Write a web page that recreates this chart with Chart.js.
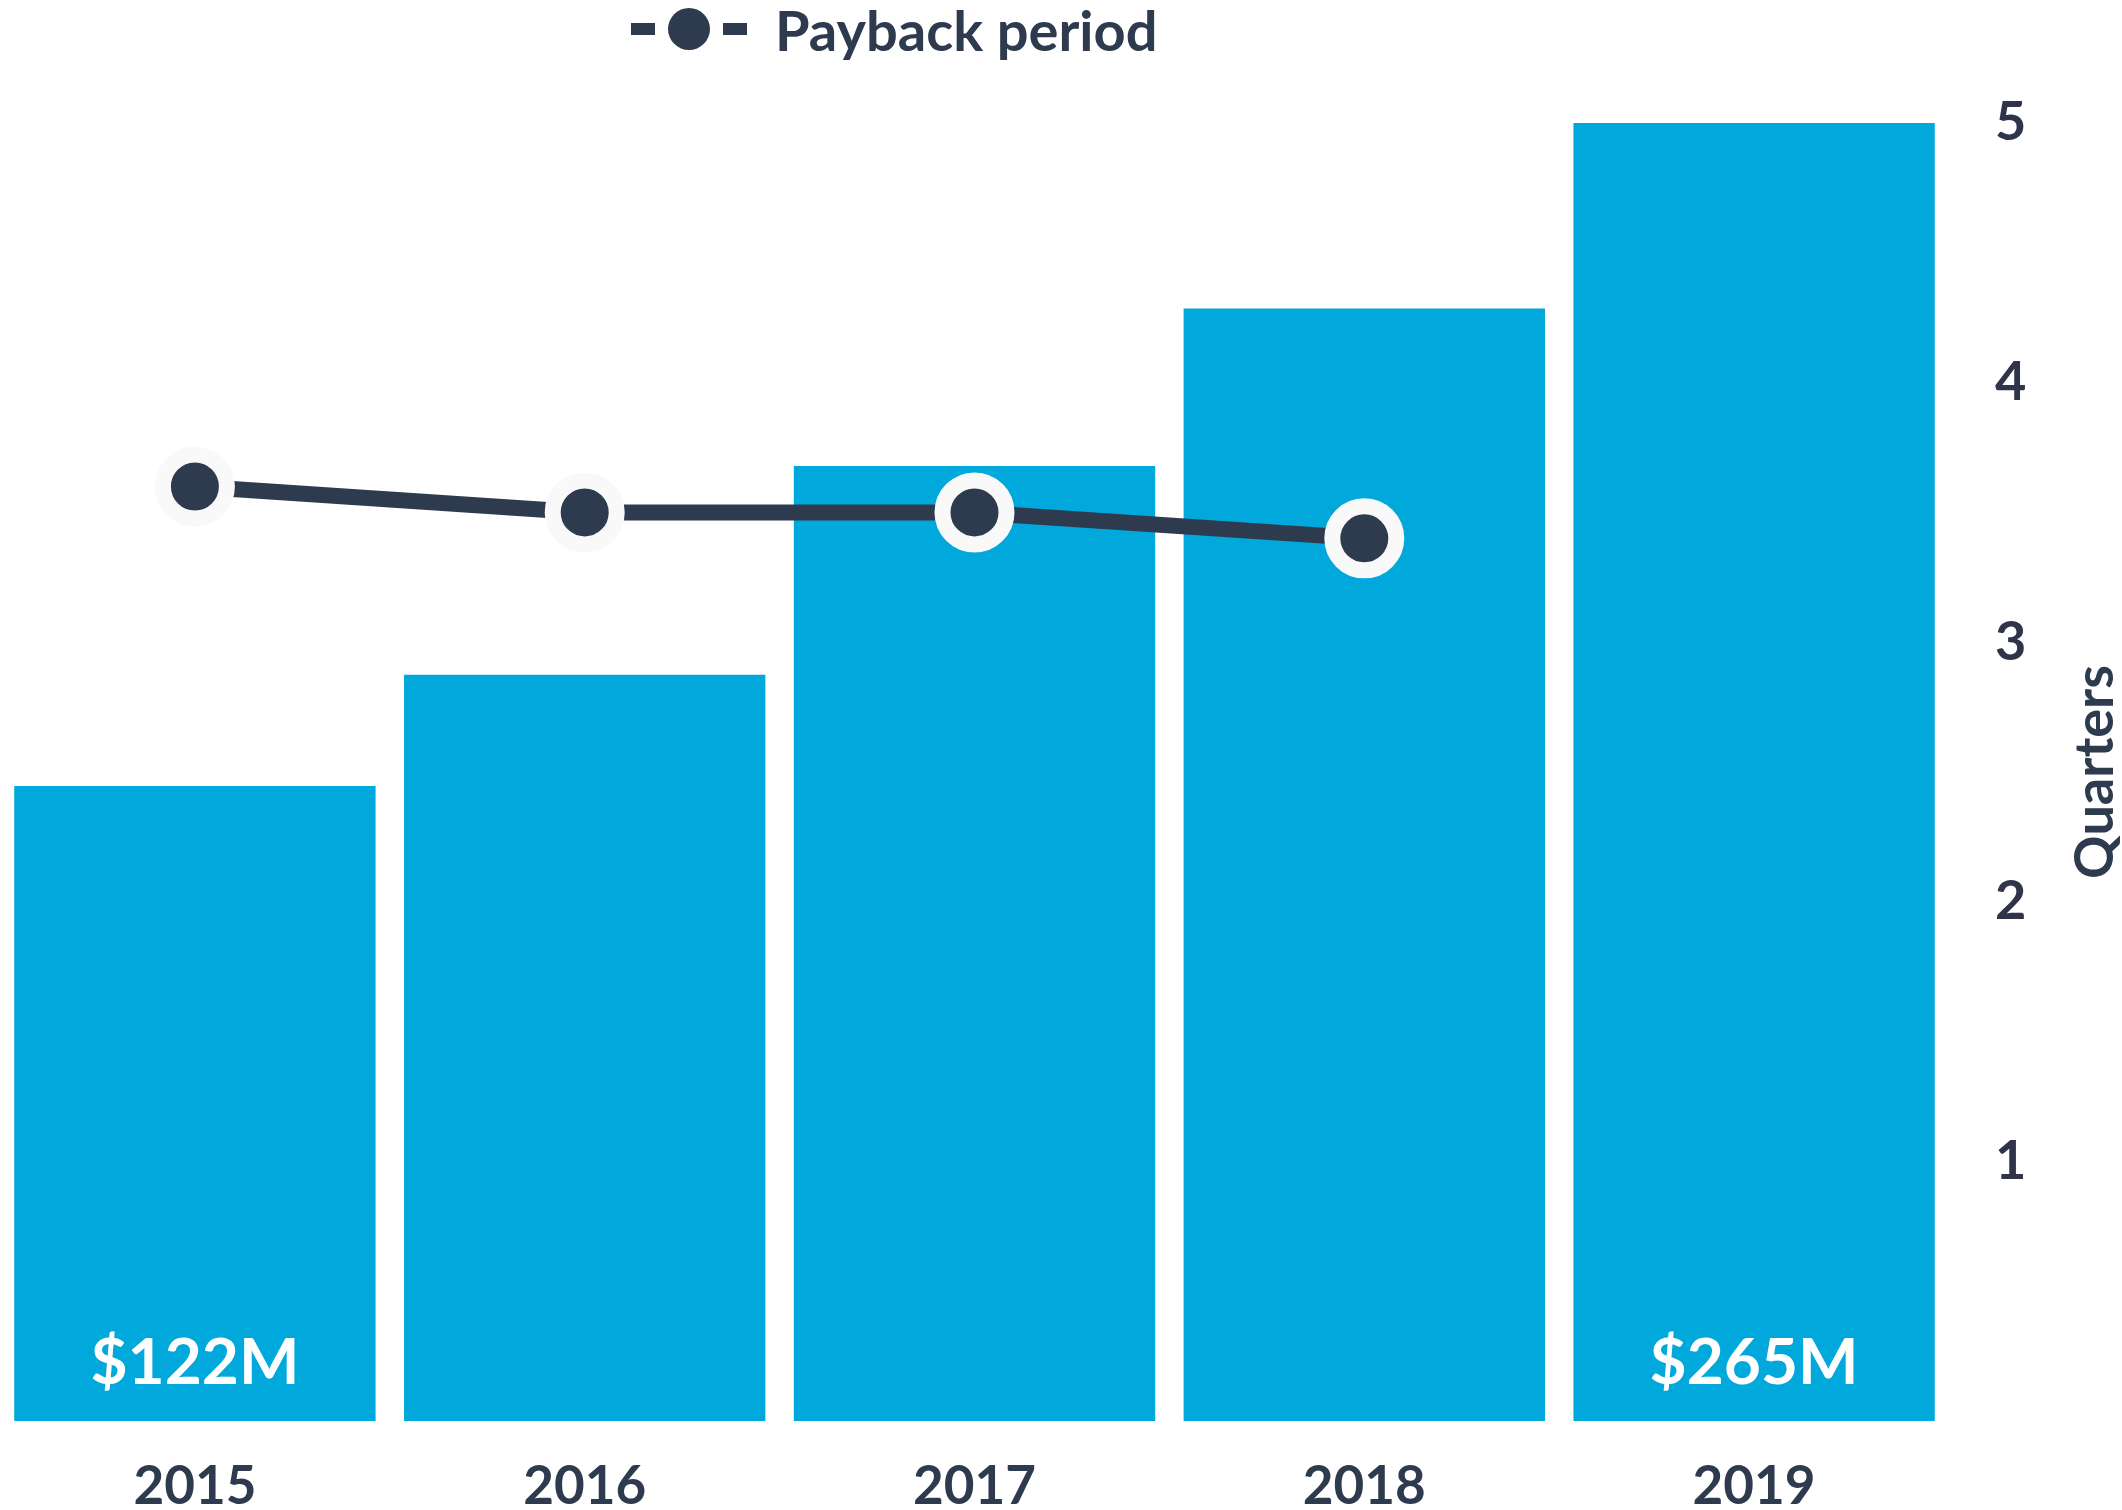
<!DOCTYPE html>
<html>
<head>
<meta charset="utf-8">
<script src="https://cdn.jsdelivr.net/npm/chart.js@4.4.1/dist/chart.umd.min.js"></script>
<style>
  html, body { margin: 0; padding: 0; background: #ffffff; }
  #wrap { width: 2122px; height: 1510px; position: relative; }
</style>
</head>
<body>
<div id="wrap"><canvas id="c" width="2122" height="1510"></canvas></div>
<script>
// ---- data ----
const years = ['2015', '2016', '2017', '2018', '2019'];
const revenueMillions = [122, 146, 191, 225, 265];
const revenueLabelShown = [true, false, false, false, true];
const paybackQuarters = [3.6, 3.5, 3.5, 3.4, null];
const quarterTicks = [1, 2, 3, 4, 5];
const lineLabel = 'Payback period';
const axisTitle = 'Quarters';
const revenueAxisMin = -15;
const revenueAxisMax = 265;

// ---- style ----
const BLUE = '#00a8db';
const NAVY = '#2e3b4f';
const HALO = '#f9f9f9';
const FONT = 'Lato, "Open Sans", sans-serif';

function makeLegendIcon() {
  const cv = document.createElement('canvas');
  cv.width = 116; cv.height = 60;
  const g = cv.getContext('2d');
  g.fillStyle = NAVY;
  const cy = 26;
  g.fillRect(0, cy - 6, 24, 12);
  g.fillRect(92, cy - 6, 24, 12);
  g.beginPath(); g.arc(58, cy, 21, 0, Math.PI * 2); g.fill();
  return cv;
}

const tweaks = {
  id: 'tweaks',
  beforeInit(chart) {
    const lg = chart.legend;
    if (lg) {
      const fit = lg.fit;
      lg.fit = function () { fit.call(this); this.height = 123; };
    }
  },
  afterLayout(chart) {
    const lg = chart.legend;
    if (lg) { const w = lg.right - lg.left; lg.left = 631 - 5; lg.right = lg.left + w; }
  },
  afterDatasetsDraw(chart) {
    const ctx = chart.ctx;
    const meta = chart.getDatasetMeta(1);
    ctx.save();
    ctx.fillStyle = '#ffffff';
    ctx.font = 'bold 64px ' + FONT;
    ctx.textAlign = 'center';
    ctx.textBaseline = 'middle';
    meta.data.forEach((bar, i) => {
      if (revenueLabelShown[i]) ctx.fillText('$' + revenueMillions[i] + 'M', bar.x, bar.base - 58);
    });
    ctx.restore();
  },
  afterDraw(chart) {
    const s = chart.scales.y;
    const ctx = chart.ctx;
    ctx.save();
    ctx.translate(s.right - 26, (chart.chartArea.top + chart.chartArea.bottom) / 2);
    ctx.rotate(-Math.PI / 2);
    ctx.fillStyle = NAVY;
    ctx.font = 'bold 54px ' + FONT;
    ctx.textAlign = 'center';
    ctx.textBaseline = 'middle';
    ctx.fillText(axisTitle, 0, 0);
    ctx.restore();
  }
};

function build() {
  const legendIcon = makeLegendIcon();
  Chart.defaults.font.family = FONT;
  Chart.defaults.color = NAVY;
  new Chart(document.getElementById('c'), {
    type: 'bar',
    data: {
      labels: years,
      datasets: [
        {
          type: 'line', label: lineLabel, data: paybackQuarters, yAxisID: 'y', order: 0,
          borderColor: NAVY, borderWidth: 16, tension: 0,
          pointRadius: 32, pointHoverRadius: 32, pointBorderWidth: 16, pointHoverBorderWidth: 16,
          pointBackgroundColor: NAVY, pointBorderColor: HALO, clip: false
        },
        {
          type: 'bar', label: 'Revenue', data: revenueMillions, yAxisID: 'y1', order: 1,
          base: revenueAxisMin,
          backgroundColor: BLUE, borderWidth: 0, categoryPercentage: 1, barPercentage: 0.927
        }
      ]
    },
    options: {
      responsive: false, devicePixelRatio: 1, animation: false,
      layout: { autoPadding: false, padding: { left: -3, right: 0, top: 0, bottom: 0 } },
      plugins: {
        tooltip: { enabled: false },
        legend: {
          display: true, position: 'top', align: 'start',
          labels: {
            usePointStyle: true, pointStyleWidth: 116, padding: 5, color: NAVY,
            font: { size: 56, weight: 'bold', family: FONT },
            generateLabels(chart) {
              const items = Chart.defaults.plugins.legend.labels.generateLabels(chart);
              return items.filter(it => it.datasetIndex === 0).map(it => Object.assign(it, { pointStyle: legendIcon }));
            }
          }
        }
      },
      scales: {
        x: {
          grid: { display: false, drawTicks: false }, border: { display: false },
          ticks: { padding: 34, color: NAVY, font: { size: 53, weight: 'bold', family: FONT } },
          afterFit(axis) { axis.height = 89; }
        },
        y: {
          position: 'right', min: 0, max: 5,
          grid: { display: false, drawTicks: false }, border: { display: false },
          afterBuildTicks(axis) { axis.ticks = [0].concat(quarterTicks).map(v => ({ value: v })); },
          ticks: { padding: 46, color: '#30344a', font: { size: 54, weight: 'bold', family: FONT },
            callback: (v) => (v === 0 ? '' : String(v)) },
          afterFit(axis) { axis.width = 173; }
        },
        y1: { display: false, min: revenueAxisMin, max: revenueAxisMax }
      }
    },
    plugins: [tweaks]
  });
}

if (document.fonts && document.fonts.load) {
  Promise.all([document.fonts.load('bold 52px Lato'), document.fonts.load('bold 64px Lato')]).then(build, build);
} else { build(); }
</script>
</body>
</html>
